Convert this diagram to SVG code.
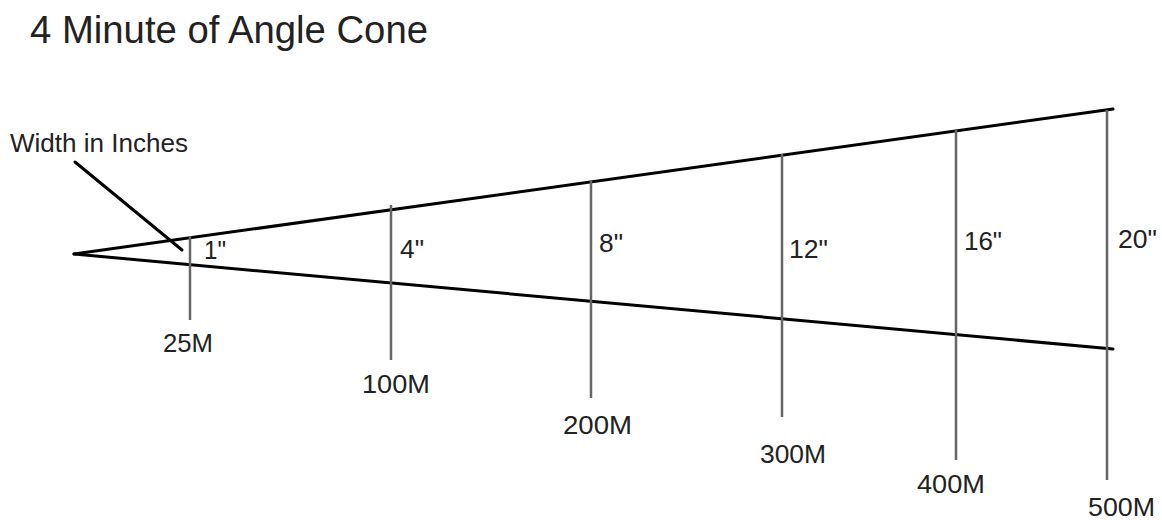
<svg xmlns="http://www.w3.org/2000/svg" width="1162" height="520" viewBox="0 0 1162 520">
<style>
.t{font-family:"Liberation Sans","DejaVu Sans",sans-serif;fill:#222}
.lbl{font-size:25px}
.cone{stroke:#000;stroke-width:3;fill:none;stroke-linecap:round}
.tick{stroke:#666;stroke-width:2.5;fill:none}
</style>
<rect width="1162" height="520" fill="#fff"/>
<text class="t" x="30" y="43" font-size="39" textLength="398" lengthAdjust="spacingAndGlyphs">4 Minute of Angle Cone</text>
<g id="connectors">
<line class="cone" x1="74" y1="254" x2="1113" y2="109"/>
<line class="cone" x1="74" y1="254" x2="1113" y2="349"/>
<line class="cone" x1="75" y1="162" x2="182" y2="250"/>
</g>
<g id="note"><text class="t" x="10" y="152" font-size="25" textLength="178" lengthAdjust="spacingAndGlyphs">Width in Inches</text></g>
<g id="m25"><line class="tick" x1="190" y1="236" x2="190" y2="320"/><text class="t lbl" x="204" y="259" textLength="22" lengthAdjust="spacingAndGlyphs">1"</text><text class="t lbl" x="163" y="352" textLength="50" lengthAdjust="spacingAndGlyphs">25M</text></g>
<g id="m100"><line class="tick" x1="391" y1="205" x2="391" y2="360"/><text class="t lbl" x="400" y="258" textLength="24" lengthAdjust="spacingAndGlyphs">4"</text><text class="t lbl" x="362" y="393" textLength="68" lengthAdjust="spacingAndGlyphs">100M</text></g>
<g id="m200"><line class="tick" x1="591" y1="180" x2="591" y2="398"/><text class="t lbl" x="599" y="252" textLength="24" lengthAdjust="spacingAndGlyphs">8"</text><text class="t lbl" x="563" y="434" textLength="69" lengthAdjust="spacingAndGlyphs">200M</text></g>
<g id="m300"><line class="tick" x1="782" y1="154" x2="782" y2="417"/><text class="t lbl" x="789" y="258" textLength="39" lengthAdjust="spacingAndGlyphs">12"</text><text class="t lbl" x="760" y="463" textLength="66" lengthAdjust="spacingAndGlyphs">300M</text></g>
<g id="m400"><line class="tick" x1="956" y1="130" x2="956" y2="460"/><text class="t lbl" x="964" y="250" textLength="38" lengthAdjust="spacingAndGlyphs">16"</text><text class="t lbl" x="917" y="493" textLength="68" lengthAdjust="spacingAndGlyphs">400M</text></g>
<g id="m500"><line class="tick" x1="1107" y1="110" x2="1107" y2="480"/><text class="t lbl" x="1118" y="248" textLength="39" lengthAdjust="spacingAndGlyphs">20"</text><text class="t lbl" x="1088" y="516" textLength="67" lengthAdjust="spacingAndGlyphs">500M</text></g>
</svg>
